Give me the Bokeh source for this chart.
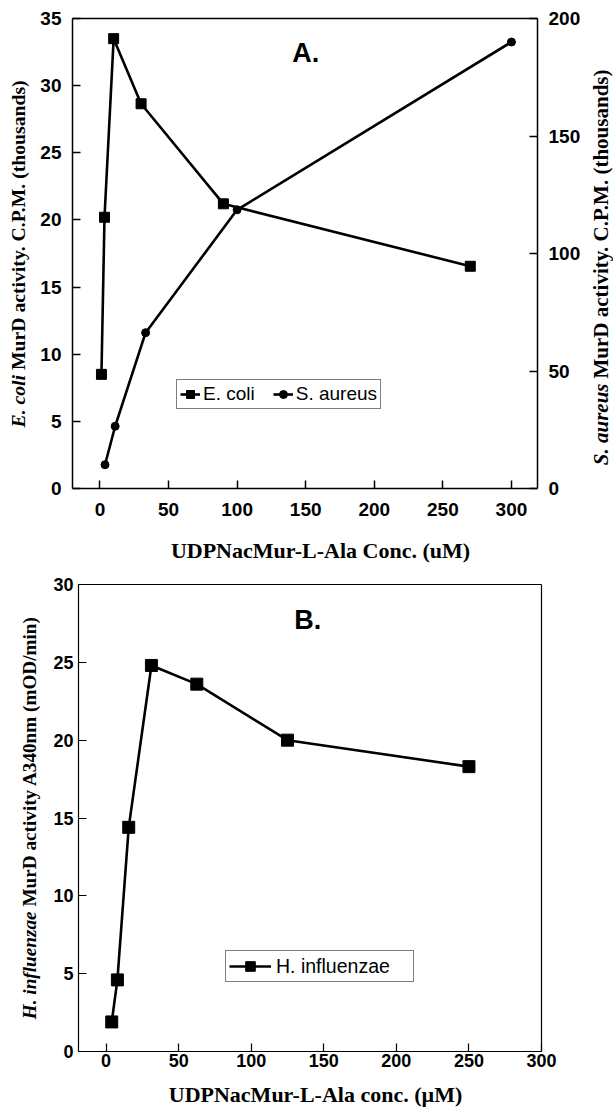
import math
from bokeh.plotting import figure
from bokeh.models import Range1d, LinearAxis, Label, Legend, LegendItem, FixedTicker
from bokeh.layouts import column
from bokeh.embed import file_html
from bokeh.resources import INLINE

# ---------------- Panel A data ----------------
ecoli_conc = [1.11, 3.33, 10, 30, 90, 270]
ecoli_cpm = [8.5, 20.2, 33.5, 28.65, 21.2, 16.55]          # thousands (left axis)
saureus_conc = [3.7, 11.1, 33.3, 100, 300]
saureus_cpm = [10.1, 26.5, 66.3, 118.6, 190]                # thousands (right axis)

xticks_a = [0, 50, 100, 150, 200, 250, 300]
yticks_a_left = [0, 5, 10, 15, 20, 25, 30, 35]
yticks_a_right = [0, 50, 100, 150, 200]

# ---------------- Panel B data ----------------
hinf_conc = [3.9, 7.8, 15.6, 31.25, 62.5, 125, 250]
hinf_rate = [1.9, 4.6, 14.4, 24.8, 23.6, 20.0, 18.3]        # mOD/min

xticks_b = [0, 50, 100, 150, 200, 250, 300]
yticks_b = [0, 5, 10, 15, 20, 25, 30]

SANS = "Liberation Sans"
SERIF = "Liberation Serif"


def padded(lo, hi, px_lo, px_hi, px_len):
    """Extend a data range so that [lo, hi] occupies pixels [px_lo, px_hi] of a px_len canvas."""
    k = (hi - lo) / (px_hi - px_lo)
    return Range1d(lo - px_lo * k, hi + (px_len - px_hi) * k)


def style_axis(ax, ticks, standoff, lw, size="18px"):
    ax.ticker = FixedTicker(ticks=ticks)
    ax.major_tick_in = 8
    ax.major_tick_out = 0
    ax.minor_tick_in = 0
    ax.minor_tick_out = 0
    ax.axis_line_width = lw
    ax.axis_line_color = "black"
    ax.major_tick_line_width = lw
    ax.major_tick_line_color = "black"
    ax.major_label_text_font = SANS
    ax.major_label_text_font_style = "bold"
    ax.major_label_text_font_size = size
    ax.major_label_text_color = "black"
    ax.major_label_standoff = standoff


def rlabel(p, x, y, text, align, size, style="bold"):
    p.add_layout(Label(x=x, y=y, x_units="screen", y_units="screen", text=text,
                       angle=math.pi / 2, text_align=align, text_baseline="middle",
                       text_font=SERIF, text_font_style=style, text_font_size=size,
                       text_color="black"))


def hlabel(p, x, y, text):
    p.add_layout(Label(x=x, y=y, x_units="screen", y_units="screen", text=text,
                       text_align="center", text_baseline="alphabetic",
                       text_font=SERIF, text_font_style="bold", text_font_size="22px",
                       text_color="black"))


def new_fig(w, h, xr, yr):
    p = figure(width=w, height=h, x_range=xr, y_range=yr, output_backend="svg",
               toolbar_location=None, min_border=0)
    p.xgrid.visible = False
    p.ygrid.visible = False
    p.outline_line_color = None
    p.background_fill_color = "white"
    p.border_fill_color = "white"
    return p


# ================= Panel A =================
WA, HA = 613, 568
pa = new_fig(WA, HA, padded(-20, 319, 72, 537, WA), padded(0, 35, 80, 550, HA))
pa.extra_y_ranges = {"sa": padded(0, 200, 80, 550, HA)}

xa = pa.xaxis[0]
style_axis(xa, xticks_a, 14, 1.5, "19px")
xa.fixed_location = 0
xa.bounds = (-20, 319)
ya = pa.yaxis[0]
style_axis(ya, yticks_a_left, 11, 1.5, "19px")
ya.fixed_location = -20
ya.bounds = (0, 35)
ax_r = LinearAxis(y_range_name="sa", fixed_location=319, bounds=(0, 200))
style_axis(ax_r, yticks_a_right, 11, 1.5, "19px")
pa.add_layout(ax_r, "right")
ax_t = LinearAxis(fixed_location=35, bounds=(-20, 319))
style_axis(ax_t, [], 0, 1.5)
pa.add_layout(ax_t, "above")

e_line = pa.line(ecoli_conc, ecoli_cpm, line_color="black", line_width=2.6)
e_pts = pa.scatter(ecoli_conc, ecoli_cpm, marker="square", size=10,
                   fill_color="black", line_color="black")
s_line = pa.line(saureus_conc, saureus_cpm, line_color="black", line_width=2.6, y_range_name="sa")
s_pts = pa.scatter(saureus_conc, saureus_cpm, marker="circle", size=8,
                   fill_color="black", line_color="black", y_range_name="sa")

leg_a = Legend(items=[LegendItem(label="E. coli", renderers=[e_line, e_pts]),
                      LegendItem(label="S. aureus", renderers=[s_line, s_pts])],
               orientation="horizontal", location=(176, 159),
               label_text_font=SANS, label_text_font_size="19px", label_text_color="black",
               glyph_width=20, glyph_height=22, label_standoff=3, spacing=18,
               padding=3, margin=0, border_line_color="black", border_line_width=1.5,
               background_fill_color="white", background_fill_alpha=1)
pa.add_layout(leg_a)

pa.add_layout(Label(x=150, y=32.4, text="A.", text_align="center", text_baseline="alphabetic",
                    text_font=SANS, text_font_style="bold", text_font_size="27px",
                    text_color="black"))

rlabel(pa, 17, 193.5, "E. coli", "right", "19.7px", "bold italic")
rlabel(pa, 17, 198.5, "MurD activity. C.P.M. (thousands)", "left", "19.7px")
rlabel(pa, 600, 185, "S. aureus", "right", "21px", "bold italic")
rlabel(pa, 600, 190, "MurD activity. C.P.M. (thousands)", "left", "21px")
hlabel(pa, 320, 18, "UDPNacMur-L-Ala Conc. (uM)")

# ================= Panel B =================
WB, HB = 613, 542
pb = new_fig(WB, HB, padded(-19, 300, 78, 541, WB), padded(0, 30, 59, 526, HB))

xb = pb.xaxis[0]
style_axis(xb, xticks_b, 2, 1.2)
xb.fixed_location = 0
xb.bounds = (-19, 300)
yb = pb.yaxis[0]
style_axis(yb, yticks_b, 5, 1.2)
yb.fixed_location = -19
yb.bounds = (0, 30)
bx_t = LinearAxis(fixed_location=30, bounds=(-19, 300))
style_axis(bx_t, [], 0, 1.2)
pb.add_layout(bx_t, "above")
by_r = LinearAxis(fixed_location=300, bounds=(0, 30))
style_axis(by_r, [], 0, 1.2)
pb.add_layout(by_r, "right")

h_line = pb.line(hinf_conc, hinf_rate, line_color="black", line_width=2.6)
h_pts = pb.scatter(hinf_conc, hinf_rate, marker="square", size=12,
                   fill_color="black", line_color="black")

leg_b = Legend(items=[LegendItem(label="H. influenzae", renderers=[h_line, h_pts])],
               orientation="horizontal", location=(225, 128),
               label_text_font=SANS, label_text_font_size="19.5px", label_text_color="black",
               glyph_width=42, glyph_height=24, label_standoff=5, label_width=134,
               padding=3, margin=0, border_line_color="black", border_line_width=1.2,
               background_fill_color="white", background_fill_alpha=1)
pb.add_layout(leg_b)

pb.add_layout(Label(x=139, y=27.7, text="B.", text_align="center", text_baseline="alphabetic",
                    text_font=SANS, text_font_style="bold", text_font_size="27px",
                    text_color="black"))

rlabel(pb, 29, 199, "H. influenzae", "right", "19.2px", "bold italic")
rlabel(pb, 29, 204, "MurD activity A340nm (mOD/min)", "left", "19.2px")
hlabel(pb, 315, 16, "UDPNacMur-L-Ala conc. (\u00b5M)")

layout = column(pa, pb)
open("out.html", "w").write(file_html(layout, INLINE))
